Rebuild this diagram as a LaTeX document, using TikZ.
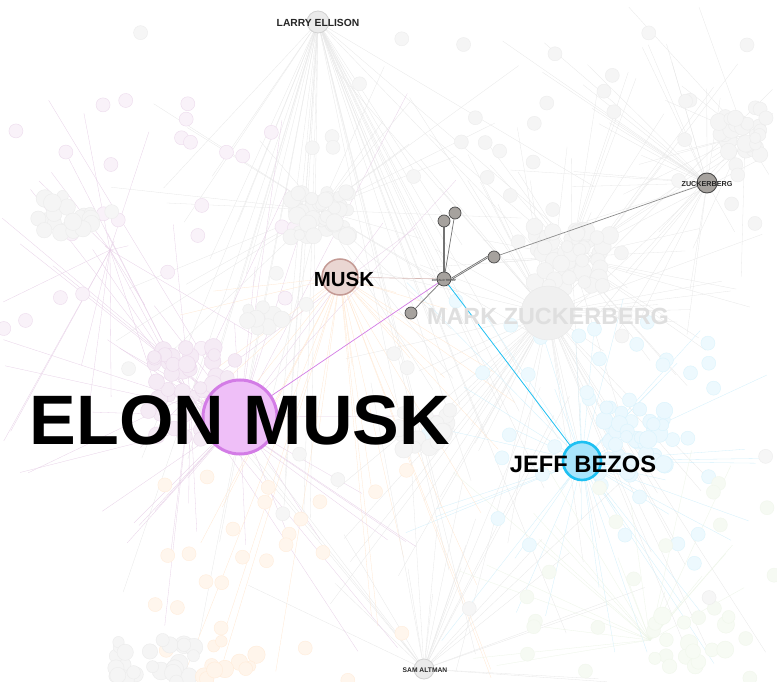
\documentclass[tikz,border=0pt]{standalone}
\usepackage{fontspec}
\setmainfont{Liberation Sans}
\definecolor{emfill}{HTML}{EFBFF8}
\definecolor{emdraw}{HTML}{D37CE6}
\definecolor{jbfill}{HTML}{A8E4FB}
\definecolor{jbdraw}{HTML}{1EC0F2}
\definecolor{mkfill}{HTML}{EAD6D2}
\definecolor{mkdraw}{HTML}{C49A94}
\definecolor{dkfill}{HTML}{A6A29E}
\definecolor{dkdraw}{HTML}{4A4A4A}
\definecolor{grn}{HTML}{9CC87A}
\pgfdeclarelayer{bg}
\pgfdeclarelayer{edges}
\pgfsetlayers{bg,edges,main}
\newcommand\bgcluster[6]{%
  \foreach \k in {1,...,#5}{%
    \pgfmathsetmacro\px{#1+#3*rand}%
    \pgfmathsetmacro\py{#2+#4*rand}%
    \pgfmathsetmacro\pr{5.5+3.5*rnd}%
    \filldraw[fill=#6!8, draw=#6!15, line width=.4pt] (\px,\py) circle[radius=\pr];
  }}
\newcommand\bgfan[8]{%
  \foreach \k in {1,...,#7}{%
    \pgfmathsetmacro\px{#3+(#4-#3)*rnd}%
    \pgfmathsetmacro\py{#5+(#6-#5)*rnd}%
    \draw[#8!18, line width=.3pt] (#1,#2) -- (\px,\py);
  }}
\newcommand\bgdots[7]{%
  \foreach \k in {1,...,#5}{%
    \pgfmathsetmacro\px{#1+#3*rnd}%
    \pgfmathsetmacro\py{#2+#4*rnd}%
    \filldraw[fill=#6!#7, draw=#6!14, line width=.4pt] (\px,\py) circle[radius=7];
  }}
\begin{document}
\begin{tikzpicture}[x=1pt,y=-1pt,
  hub/.style={circle, inner sep=0pt},
  dark/.style={hub, fill=dkfill, draw=dkdraw, line width=.7pt, minimum size=12pt},
  lbl/.style={inner sep=0pt, font=\bfseries},
  hl/.style={draw=black!55, line width=.7pt}]
\useasboundingbox (0,0) rectangle (777,682);
\begin{pgfonlayer}{bg}
\fill[white] (0,0) rectangle (777,682);
\pgfmathsetseed{11}
% faint background edges
\bgfan{318}{22}{120}{660}{150}{682}{40}{gray}
\bgfan{548}{313}{330}{777}{60}{682}{60}{gray}
\bgfan{582}{461}{400}{777}{280}{682}{40}{cyan}
\bgfan{240}{417}{0}{460}{90}{682}{30}{violet}
\bgfan{340}{277}{180}{520}{290}{682}{28}{orange}
\bgfan{424}{669}{180}{680}{380}{682}{25}{gray}
\bgfan{707}{183}{500}{777}{40}{340}{28}{gray}
\bgfan{745}{135}{600}{777}{0}{320}{12}{gray}
\bgfan{320}{210}{100}{560}{60}{400}{25}{gray}
\bgfan{572}{257}{420}{777}{60}{450}{30}{gray}
\bgfan{650}{640}{450}{777}{450}{682}{20}{grn}
\bgfan{190}{395}{0}{420}{150}{682}{22}{violet}
\bgfan{110}{250}{0}{300}{100}{450}{18}{violet}
% faint background nodes
\bgdots{0}{100}{300}{250}{28}{violet}{5}
\bgdots{420}{280}{357}{300}{38}{cyan}{7}
\bgdots{150}{470}{270}{212}{26}{orange}{7}
\bgdots{520}{480}{257}{202}{22}{grn}{9}
\bgdots{450}{40}{327}{220}{28}{gray}{8}
\bgdots{0}{0}{777}{682}{25}{gray}{7}
\bgcluster{320}{212}{30}{25}{45}{gray}
\bgcluster{572}{257}{38}{32}{55}{gray}
\bgcluster{742}{135}{25}{20}{28}{gray}
\bgcluster{190}{395}{45}{48}{55}{violet}
\bgcluster{630}{440}{35}{35}{38}{cyan}
\bgcluster{70}{215}{32}{20}{22}{gray}
\bgcluster{160}{662}{48}{22}{28}{gray}
\bgcluster{425}{430}{28}{20}{18}{gray}
\bgcluster{265}{320}{20}{14}{10}{gray}
\bgcluster{690}{640}{40}{28}{15}{grn}
\bgcluster{230}{660}{30}{20}{10}{orange}
\end{pgfonlayer}
% hubs
\node[hub, minimum size=22pt, fill=gray!16, draw=gray!35, line width=.8pt] (le) at (318,22) {};
\node[hub, minimum size=54pt, fill=gray!12, draw=gray!18] (mz) at (548,313) {};
\node[hub, minimum size=20pt, fill=gray!16, draw=gray!35, line width=.8pt] (sa) at (424,669) {};
\node[lbl, font=\bfseries\fontsize{23.4}{24}\selectfont, text=gray!25] (mzt) at (548,316) {MARK ZUCKERBERG};
% dark small nodes
\node[dark, minimum size=14pt] (dt) at (444,279) {};
\node[dark] (n1) at (444,221) {};
\node[dark] (n2) at (455,213) {};
\node[dark] (n3) at (494,257) {};
\node[dark] (n4) at (411,313) {};
\node[dark, minimum size=20pt, line width=.9pt] (zk) at (707,183) {};
% coloured hubs
\node[hub, minimum size=36pt, fill=mkfill, draw=mkdraw, line width=1.5pt] (mk) at (340,277) {};
\node[hub, minimum size=74pt, fill=emfill, draw=emdraw, line width=3pt] (em) at (240,417) {};
\node[hub, minimum size=38pt, fill=jbfill, draw=jbdraw, line width=2.6pt] (jb) at (582,461) {};
% highlighted connectors
\begin{pgfonlayer}{edges}
\draw[mkdraw!70, line width=.6pt] (mk) -- (dt);
\draw[emdraw, line width=.7pt] (em) -- (dt);
\draw[jbdraw, line width=.8pt] (dt) -- (jb);
\draw[hl] ([xshift=-.8pt]dt.north) -- ([xshift=-.8pt]n1.south);
\draw[hl] ([xshift=.8pt]dt.north) -- ([xshift=.8pt]n1.south);
\draw[hl] (dt) -- (n2);
\draw[hl] ([yshift=-.8pt]dt.east) -- ([yshift=-.8pt]n3.west);
\draw[hl] ([yshift=.8pt]dt.east) -- ([yshift=.8pt]n3.west);
\draw[hl] (dt) -- (n4);
\draw[hl, draw=black!45] (n3) -- (zk);
\end{pgfonlayer}
\node[lbl, font=\bfseries\fontsize{3}{3}\selectfont, text=black!70] (dtt) at (444,280) {DONALD TRUMP};
% labels
\node[lbl, font=\bfseries\fontsize{10.3}{11}\selectfont, text=black!85] (let) at (318,23) {LARRY ELLISON};
\node[lbl, font=\bfseries\fontsize{6.7}{7}\selectfont, text=black!85] (sat) at (425,670) {SAM ALTMAN};
\node[lbl, font=\bfseries\fontsize{7.2}{8}\selectfont, text=black!85] (zkt) at (707,184) {ZUCKERBERG};
\node[lbl, font=\bfseries\fontsize{20.4}{21}\selectfont] (mkt) at (344,279) {MUSK};
\node[lbl, font=\bfseries\fontsize{23.7}{24}\selectfont] (jbt) at (583,464) {JEFF BEZOS};
\node[lbl, font=\bfseries\fontsize{70}{70}\selectfont] (emt) at (240,420) {ELON MUSK};
\end{tikzpicture}
\end{document}
